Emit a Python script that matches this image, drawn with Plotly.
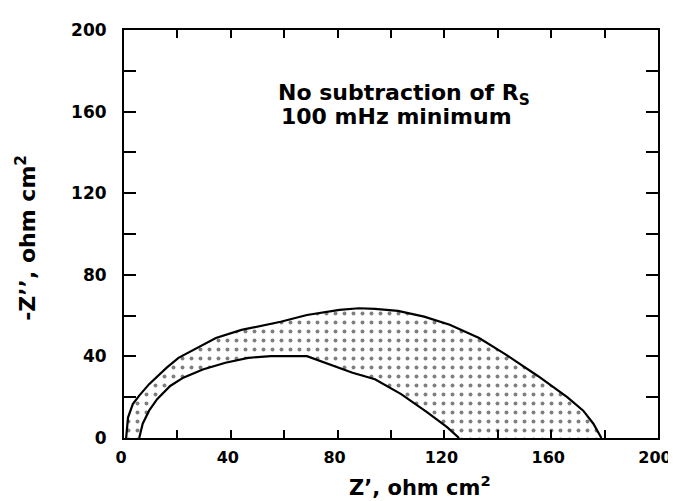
import plotly.graph_objects as go

# Outer boundary (no subtraction of Rs)
outer_x = [0.8, 1.5, 3.3, 5.7, 9.4, 16.0, 20.4, 27.0, 34.4, 44.0, 52.6, 58.7, 68.5, 80.7, 88.0,
           94.0, 102.6, 112.4, 122.0, 133.0, 142.9, 155.0, 166.0, 172.0, 175.8, 178.0, 178.8]
outer_y = [0.0, 10.0, 16.6, 20.8, 26.4, 34.5, 39.3, 44.0, 49.0, 53.0, 55.5, 57.0, 60.3, 62.8, 63.6,
           63.3, 62.3, 59.5, 55.5, 49.0, 41.0, 30.4, 20.0, 13.4, 7.0, 2.0, 0.0]

# Inner boundary
inner_x = [5.7, 7.0, 9.4, 12.4, 17.3, 22.2, 29.5, 38.0, 46.5, 55.0, 68.5, 77.0, 85.6,
           94.0, 103.8, 113.6, 121.0, 125.5]
inner_y = [0.0, 7.0, 13.4, 19.0, 25.5, 29.6, 33.6, 36.9, 39.3, 40.1, 40.1, 36.0, 32.0,
           28.8, 21.5, 12.6, 5.3, 0.0]

tick_vals = [0, 40, 80, 120, 160, 200]
tick_text = ["0", "40", "80", "120", "160", "200"]
minor_vals = [20, 60, 100, 140, 180]

FONT = "DejaVu Sans"

fig = go.Figure()

# shaded band between the curves
fig.add_trace(go.Scatter(
    x=outer_x + inner_x[::-1],
    y=outer_y + inner_y[::-1],
    mode="lines", line=dict(width=0, color="black"),
    fill="toself", fillcolor="white",
    fillpattern=dict(shape=".", size=9, solidity=0.15, fgcolor="black", bgcolor="white"),
    hoverinfo="skip", showlegend=False))

fig.add_trace(go.Scatter(x=outer_x, y=outer_y, mode="lines",
                         line=dict(color="black", width=2.2), showlegend=False))
fig.add_trace(go.Scatter(x=inner_x, y=inner_y, mode="lines",
                         line=dict(color="black", width=2.2), showlegend=False))

axis_common = dict(
    showgrid=False, zeroline=False, showline=True, linecolor="black", linewidth=2,
    mirror="allticks", ticks="inside", tickcolor="black", tickwidth=2,
    tickvals=tick_vals, ticktext=tick_text,
    range=[0, 200],
)

fig.update_xaxes(**axis_common, ticklen=8,
                 tickfont=dict(family=FONT, size=16, color="black", weight="bold"),
                 minor=dict(tickvals=minor_vals, ticks="inside", ticklen=8,
                            tickcolor="black", tickwidth=2),
                 ticklabelstandoff=4, ticklabelshift=-3, ticklabeloverflow="allow")
fig.update_yaxes(**axis_common, ticklen=12,
                 tickfont=dict(family=FONT, size=17, color="black", weight="bold"),
                 minor=dict(tickvals=minor_vals, ticks="inside", ticklen=12,
                            tickcolor="black", tickwidth=2),
                 ticklabelstandoff=12)

ann_font = dict(family=FONT, size=22, color="black", weight="bold")
fig.add_annotation(x=57.0, y=168.5, xref="x", yref="y", xanchor="left", yanchor="middle",
                   text="No subtraction of R<sub>S</sub>", showarrow=False, font=ann_font)
fig.add_annotation(x=58.0, y=157.5, xref="x", yref="y", xanchor="left", yanchor="middle",
                   text="100 mHz minimum", showarrow=False, font=ann_font)

fig.add_annotation(x=0.418, y=-0.118, xref="paper", yref="paper", xanchor="left",
                   yanchor="middle", text="Z’, ohm cm<sup>2</sup>", showarrow=False,
                   font=dict(family=FONT, size=21, color="black", weight="bold"))
fig.add_annotation(x=-0.184, y=0.49, xref="paper", yref="paper", xanchor="center",
                   yanchor="middle", textangle=-90, text="-Z’’, ohm cm<sup>2</sup>",
                   showarrow=False,
                   font=dict(family=FONT, size=22, color="black", weight="bold"))

fig.update_layout(
    width=676, height=501,
    margin=dict(l=116, r=15, t=20, b=71),
    paper_bgcolor="white", plot_bgcolor="white",
    showlegend=False,
)

fig.write_html("out.html")
